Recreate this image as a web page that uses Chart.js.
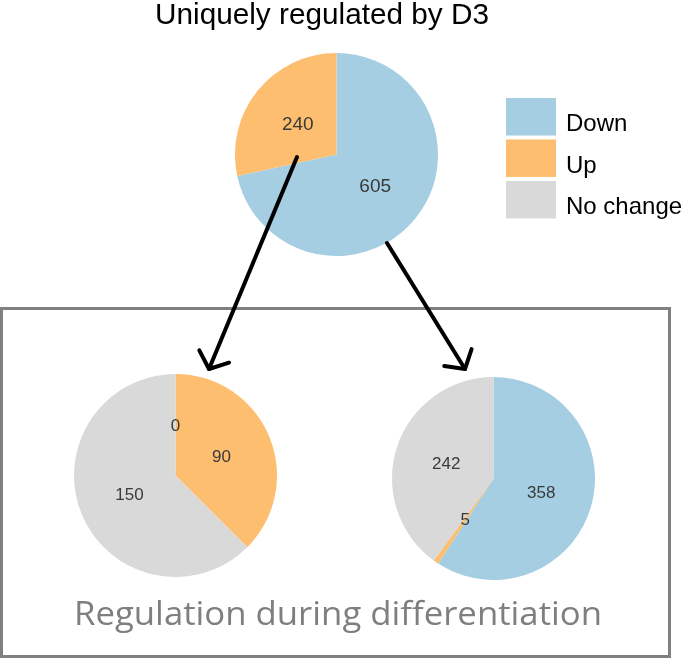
<!DOCTYPE html>
<html>
<head>
<meta charset="utf-8">
<script src="https://cdn.jsdelivr.net/npm/chart.js@4/dist/chart.umd.min.js"></script>
<style>
  html, body { margin: 0; padding: 0; background: #fff; }
  #wrap { position: relative; width: 685px; height: 658px; overflow: hidden; background: #fff; }
  #wrap canvas { position: absolute; }
  #overlay { position: absolute; left: 0; top: 0; z-index: 5; }
</style>
</head>
<body>
<div id="wrap">
  <canvas id="pieTop" width="203" height="203" style="left:235px;top:53px"></canvas>
  <canvas id="pieLeft" width="203" height="203" style="left:74px;top:374px"></canvas>
  <canvas id="pieRight" width="203" height="203" style="left:392px;top:377px"></canvas>
  <svg id="overlay" width="685" height="658" xmlns="http://www.w3.org/2000/svg"></svg>
</div>
<script>
// ---- data ----
const categories = ['Down', 'Up', 'No change'];
const topValues = [605, 240, null];     // Uniquely regulated by D3
const leftValues = [0, 90, 150];        // from the Up group
const rightValues = [358, 5, 242];      // from the Down group
const titleText = 'Uniquely regulated by D3';
const bottomText = 'Regulation during differentiation';

// ---- styles ----
const palette = ['#a6cee3', '#fdbf6f', '#d9d9d9'];

const valueLabels = {
  id: 'valueLabels',
  afterDatasetsDraw(chart, args, opts) {
    const ctx = chart.ctx;
    const meta = chart.getDatasetMeta(0);
    const ds = chart.data.datasets[0];
    ctx.save();
    ctx.font = opts.size + 'px "Liberation Sans", Arial, sans-serif';
    ctx.fillStyle = '#3a3a3a';
    ctx.textAlign = 'center';
    ctx.textBaseline = 'middle';
    meta.data.forEach((arc, i) => {
      const v = ds.data[i];
      if (v === null || v === undefined) return;
      const p = arc.getProps(['x', 'y', 'startAngle', 'endAngle', 'outerRadius'], true);
      const mid = (p.startAngle + p.endAngle) / 2;
      const r = p.outerRadius * 0.49;
      ctx.fillText(String(v), p.x + Math.cos(mid) * r, p.y + Math.sin(mid) * r + 1);
    });
    ctx.restore();
  }
};

function makePie(id, values, labelSize) {
  return new Chart(document.getElementById(id), {
    type: 'pie',
    data: {
      labels: categories,
      datasets: [{ data: values, backgroundColor: palette, borderWidth: 0, hoverOffset: 0 }]
    },
    options: {
      responsive: false,
      animation: false,
      layout: { padding: 0 },
      plugins: { legend: { display: false }, tooltip: { enabled: false }, valueLabels: { size: labelSize } }
    },
    plugins: [valueLabels]
  });
}

makePie('pieTop', topValues, 19);
makePie('pieLeft', leftValues, 17);
makePie('pieRight', rightValues, 17);

// ---- overlay: frame, arrows, titles, legend ----
const NS = 'http://www.w3.org/2000/svg';
const svg = document.getElementById('overlay');
function el(name, attrs, text) {
  const e = document.createElementNS(NS, name);
  for (const k in attrs) e.setAttribute(k, attrs[k]);
  if (text !== undefined) e.textContent = text;
  svg.appendChild(e);
  return e;
}

el('rect', { x: 1.5, y: 308.5, width: 668, height: 348, fill: 'none', stroke: '#808080', 'stroke-width': 3 });

function arrow(x1, y1, x2, y2) {
  el('line', { x1, y1, x2, y2, stroke: '#000', 'stroke-width': 4, 'stroke-linecap': 'round' });
  const back = Math.atan2(y1 - y2, x1 - x2);
  const len = 21, spread = 50 * Math.PI / 180;
  const a1 = back - spread, a2 = back + spread;
  const pts = [
    [x2 + Math.cos(a1) * len, y2 + Math.sin(a1) * len],
    [x2, y2],
    [x2 + Math.cos(a2) * len, y2 + Math.sin(a2) * len]
  ].map(p => p.join(',')).join(' ');
  el('polyline', { points: pts, fill: 'none', stroke: '#000', 'stroke-width': 4, 'stroke-linecap': 'round', 'stroke-linejoin': 'round' });
}
arrow(297, 157, 209, 369);
arrow(387, 243, 465, 369);

el('text', { x: 155, y: 24, 'font-family': '"Liberation Sans", Arial, sans-serif', 'font-size': 30, fill: '#000',
  textLength: 334, lengthAdjust: 'spacingAndGlyphs' }, titleText);

el('text', { x: 74, y: 625, 'font-family': '"Open Sans", Lato, sans-serif', 'font-size': 32.5, fill: '#7f7f7f',
  textLength: 528, lengthAdjust: 'spacingAndGlyphs' }, bottomText);

categories.forEach((c, i) => {
  const top = 97 + 41.5 * i;
  el('rect', { x: 506, y: top + 1, width: 50, height: 37.5, fill: palette[i] });
  el('text', { x: 566, y: top + 34, 'font-family': '"Liberation Sans", Arial, sans-serif', 'font-size': 24, fill: '#000' }, c);
});
</script>
</body>
</html>
